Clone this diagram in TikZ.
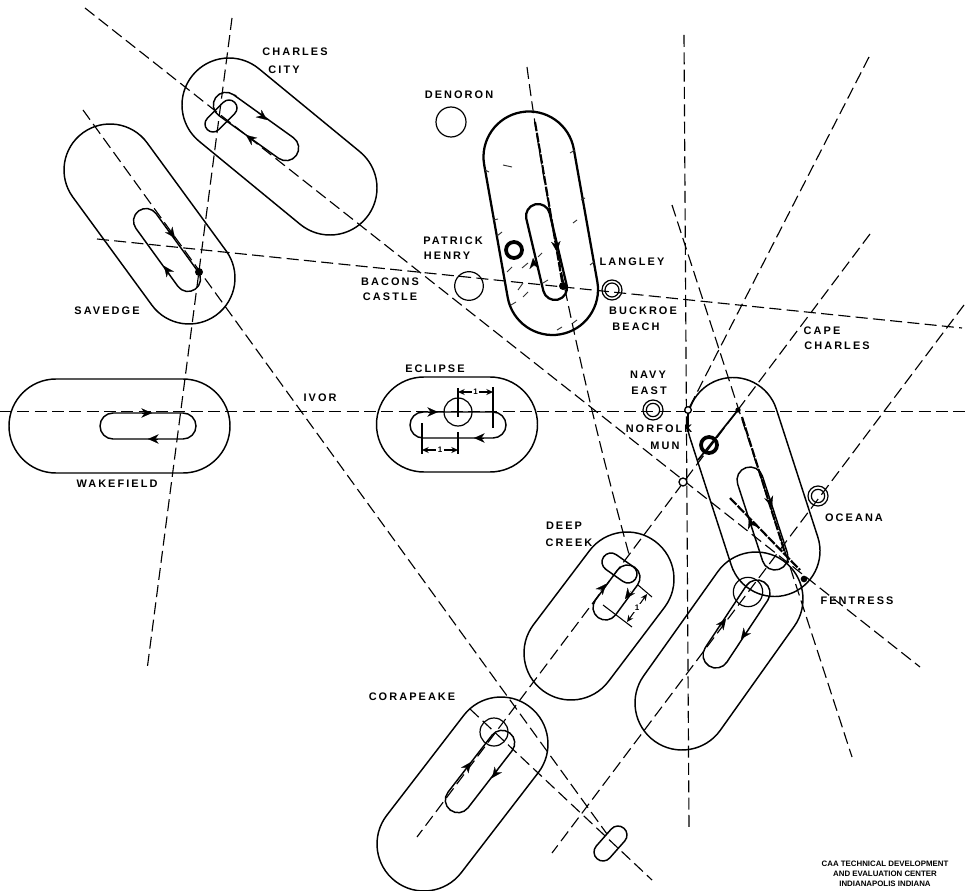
\documentclass[tikz,border=0pt]{standalone}
\usepackage{fontspec}
\usetikzlibrary{arrows.meta}
\setmainfont{Liberation Sans}
\newfontfamily\lblfont[LetterSpace=19]{Liberation Sans Bold}
\newfontfamily\credfont{Liberation Sans Bold}
\tikzset{
  track/.style={black,line width=1.1pt},
  heavytrack/.style={black,line width=1.7pt},
  radial/.style={black,line width=.85pt,dash pattern=on 9pt off 4pt},
  radialheavy/.style={black,line width=1.6pt,dash pattern=on 7pt off 1.2pt},
  lbl/.style={font=\lblfont\fontsize{8.2pt}{9pt}\selectfont,inner sep=0pt,text=black},
  credit/.style={font=\credfont\fontsize{5.9pt}{7pt}\selectfont,inner sep=0pt,text=black},
  fix/.style={circle,draw=black,line width=.9pt,inner sep=0pt,outer sep=0pt},
  heavyfix/.style={fix,line width=2.8pt},
  markdot/.style={circle,fill=black,inner sep=0pt,minimum size=6pt},
  opendot/.style={circle,draw=black,fill=white,line width=1pt,inner sep=0pt,minimum size=6pt},
  dimline/.style={black,line width=.8pt},
  dimarrow/.style={black,line width=.8pt,{Stealth[length=5pt,width=4.5pt]}-{Stealth[length=5pt,width=4.5pt]}},
  hatchmark/.style={black!80,line width=.7pt},
  flow/.style={black,line width=.1pt,-{Stealth[length=8pt,width=7pt]}},
}
\newcommand\stadium[6][track]{%
  \pgfmathsetmacro\ang{atan2(#5-#3,#4-#2)}%
  \draw[#1] ([shift={(\ang-90:#6)}]#2,#3) -- ([shift={(\ang-90:#6)}]#4,#5)
    arc[start angle=\ang-90,delta angle=180,radius=#6]
    -- ([shift={(\ang+90:#6)}]#2,#3)
    arc[start angle=\ang+90,delta angle=180,radius=#6] -- cycle;}
\newcommand\flowtip[4]{\draw[flow] (#1,#2) -- ++(#3,#4);}
\begin{document}
\begin{tikzpicture}[x=.75pt,y=-.75pt]
\fill[white] (0,0) rectangle (970,891);
\useasboundingbox (0,0) rectangle (970,891);

% radial ends
\coordinate (a1) at (85,8);    \coordinate (a2) at (920,667);
\coordinate (b1) at (0,411.5); \coordinate (b2) at (970,411.5);
\coordinate (c1) at (232,18);  \coordinate (c2) at (147,670);
\coordinate (d1) at (83,110);  \coordinate (d2) at (607,834);
\coordinate (e1) at (97,239);  \coordinate (e2) at (962,328);
\coordinate (f1) at (527,67);  \coordinate (f2) at (630,558);
\coordinate (f3) at (548,227); \coordinate (f4) at (586,398);
\coordinate (g1) at (684,35);  \coordinate (g2) at (689,828);
\coordinate (h1) at (869,57);  \coordinate (h2) at (688,410);
\coordinate (i1) at (870,234); \coordinate (i2) at (417,837);
\coordinate (j1) at (964,305); \coordinate (j2) at (552,853);
\coordinate (k1) at (672,205); \coordinate (k2) at (852,757);
\coordinate (l1) at (470,709); \coordinate (l2) at (652,880);

\draw[radial] (a1) -- (a2);
\draw[radial,line width=.7pt] (b1) -- (b2);
\draw[radial] (c1) -- (c2);
\draw[radial] (d1) -- (d2);
\draw[radial] (e1) -- (e2);
\draw[radial] (f1) .. controls (f3) and (f4) .. (f2);
\draw[radial] (g1) -- (g2);
\draw[radial] (h1) -- (h2);
\draw[radial] (i1) -- (i2);
\draw[radial] (j1) -- (j2);
\draw[radial] (k1) -- (k2);
\draw[radial] (l1) -- (l2);

% heavier stretches of the radials
\coordinate (m1) at (535,122); \coordinate (m2) at (563,287);
\draw[radialheavy] (m1) -- (m2);
\coordinate (n1) at (742,417); \coordinate (n2) at (785,553);
\draw[radialheavy] (n1) -- (n2);
\coordinate (o1) at (738,410); \coordinate (o2) at (698,460);
\draw[black,line width=1.3pt] (o1) -- (o2);
\coordinate (p1) at (730,498); \coordinate (p2) at (800,570);
\draw[radialheavy] (p1) -- (p2);
\coordinate (q1) at (688,412); \coordinate (q2) at (688,432);
\draw[black,line width=1.8pt] (q1) -- (q2);

% Charles City
\stadium{229}{105}{330}{188}{47}
\stadium{226}{105}{286}{148}{12.7}
\stadium{213}{124}{229}{108}{8}
\flowtip{258}{113}{9}{7}
\flowtip{255}{142}{-9}{-7}

% Savedge
\stadium{110}{170}{189}{278}{46}
\stadium{146}{221}{188}{279}{12.5}
\flowtip{169}{230}{6}{8}
\flowtip{170}{274}{-6}{-8}

% Wakefield
\stadium{56}{426}{183}{426}{47}
\stadium{113}{426}{183}{426}{13}
\flowtip{142}{413}{10}{0}
\flowtip{158}{439}{-10}{0}

% Eclipse
\stadium{424}{424.5}{490}{424.5}{47.5}
\stadium{423}{425}{493}{425}{13}
\node[fix,minimum size=21pt] (eclipsefix) at (458,412) {};
\flowtip{428}{412}{10}{0}
\flowtip{484}{438}{-10}{0}
\coordinate (ea1) at (458,388); \coordinate (ea2) at (458,417);
\coordinate (eb1) at (493,387); \coordinate (eb2) at (493,428);
\coordinate (ec1) at (422,423); \coordinate (ec2) at (422,454);
\coordinate (ed1) at (458,432); \coordinate (ed2) at (458,454);
\draw[dimline] (ea1) -- (ea2);
\draw[dimline] (eb1) -- (eb2);
\draw[dimline] (ec1) -- (ec2);
\draw[dimline] (ed1) -- (ed2);
\coordinate (ee1) at (458,392); \coordinate (ee2) at (493,392);
\coordinate (ef1) at (422,450); \coordinate (ef2) at (458,450);
\draw[dimarrow] (ee1) -- node[fill=white,inner sep=1pt,font=\credfont\fontsize{6pt}{7pt}\selectfont] (et) {1} (ee2);
\draw[dimarrow] (ef1) -- node[fill=white,inner sep=1pt,font=\credfont\fontsize{6pt}{7pt}\selectfont] (eu) {1} (ef2);

% Langley
\stadium[heavytrack]{529}{157}{552.5}{289.5}{45.5}
\stadium[heavytrack]{538}{216}{555}{288}{12}
\flowtip{556}{243}{1}{9}
\flowtip{534}{267}{-1}{-9}
\foreach \xa/\ya/\xb/\yb in {503/165/512/167,493/220/498/219,573/223/577/220,522/268/528/263,
  538/257/542/253,518/290/523/283,523/297/528/292,507/272/512/267,557/330/562/327,
  573/323/577/320,570/153/575/150,543/283/548/280,485/170/489/172,502/232/497/236,
  590/265/594/262,511/305/516/302,581/200/585/198}
  \draw[hatchmark] (\xa,\ya) -- (\xb,\yb);

% Fentress upper
\stadium{733}{423}{774.5}{551}{45.5}
\stadium{750}{480}{775}{557}{13}
\flowtip{769}{498}{3}{9}
\flowtip{752}{527}{-3}{-9}

% Fentress lower
\stadium{756}{599}{682}{703}{47}
\stadium{757}{593}{716}{655}{13}
\node[fix,minimum size=22pt] (fentfix) at (748,592) {};
\flowtip{720}{627}{6}{-8}
\flowtip{747}{631}{-6}{8}

% Deep Creek
\stadium{627}{579}{571}{653}{47}
\stadium{627.5}{577.5}{605.5}{607.5}{12.5}
\stadium{611}{562}{628}{574}{9}
\flowtip{600}{591}{6}{-7}
\flowtip{631}{591}{-6}{8}
\coordinate (dc1) at (638,585); \coordinate (dc2) at (652,597);
\coordinate (dc3) at (603,605); \coordinate (dc4) at (632,627);
\draw[dimline] (dc1) -- (dc2);
\draw[dimline] (dc3) -- (dc4);
\coordinate (dc5) at (647,594); \coordinate (dc6) at (627,622);
\draw[dimarrow] (dc5) -- node[fill=white,inner sep=1pt,font=\credfont\fontsize{6pt}{7pt}\selectfont] (dct) {1} (dc6);

% Corapeake
\stadium{501}{744}{424}{844}{47}
\stadium{502}{743}{458}{800}{12.7}
\node[fix,minimum size=21pt] (corafix) at (494,732) {};
\flowtip{465}{770}{6}{-8}
\flowtip{498}{770}{-6}{8}

% Small oval at the far end
\stadium{603}{852}{618}{835}{9}

% Fixes
\node[fix,minimum size=22.5pt] (denoron) at (451,122) {};
\node[fix,minimum size=21.5pt] (bacons) at (469,286) {};
\node[heavyfix,minimum size=12pt] (patrick) at (514,250) {};
\node[heavyfix,minimum size=12pt] (norfolk) at (709,445) {};
\node[fix,minimum size=15pt] (langleyo) at (612,290) {};
\node[fix,minimum size=10.5pt] (langleyi) at (612,290) {};
\node[fix,minimum size=15pt] (navyo) at (653,410) {};
\node[fix,minimum size=10pt] (navyi) at (653,410) {};
\node[fix,minimum size=15pt] (oceanao) at (818,496) {};
\node[fix,minimum size=10pt] (oceanai) at (818,496) {};
\node[markdot] (saveint) at (199,272) {};
\node[markdot] (langint) at (563,286) {};
\node[opendot] (fint1) at (683,482) {};
\node[opendot,minimum size=5pt] (fint2) at (688,410) {};
\node[markdot,minimum size=4pt] (fint3) at (738,410) {};
\node[markdot,minimum size=5pt] (fint4) at (804,579) {};

% Labels
\node[lbl] (t1) at (295,52) {CHARLES};
\node[lbl] (t2) at (284,70) {CITY};
\node[lbl] (t3) at (107,311) {SAVEDGE};
\node[lbl] (t4) at (390,282) {BACONS};
\node[lbl] (t5) at (390,297) {CASTLE};
\node[lbl] (t6) at (453,241) {PATRICK};
\node[lbl] (t7) at (447,256) {HENRY};
\node[lbl] (t8) at (459,95) {DENORON};
\node[lbl] (t9) at (632,262) {LANGLEY};
\node[lbl] (t10) at (643,311) {BUCKROE};
\node[lbl] (t11) at (636,327) {BEACH};
\node[lbl] (t12) at (822,331) {CAPE};
\node[lbl] (t13) at (837,346) {CHARLES};
\node[lbl] (t14) at (648,375) {NAVY};
\node[lbl] (t15) at (649,391) {EAST};
\node[lbl] (t16) at (659,429) {NORFOLK};
\node[lbl] (t17) at (665,446) {MUN};
\node[lbl] (t18) at (854,518) {OCEANA};
\node[lbl] (t19) at (857,601) {FENTRESS};
\node[lbl] (t20) at (564,526) {DEEP};
\node[lbl] (t21) at (569,543) {CREEK};
\node[lbl] (t22) at (412,697) {CORAPEAKE};
\node[lbl] (t23) at (435,369) {ECLIPSE};
\node[lbl] (t24) at (320,398) {IVOR};
\node[lbl] (t25) at (117,484) {WAKEFIELD};
\node[credit] (c1t) at (885,864) {CAA TECHNICAL DEVELOPMENT};
\node[credit] (c2t) at (885,873.5) {AND EVALUATION CENTER};
\node[credit] (c3t) at (885,884) {INDIANAPOLIS INDIANA};
\end{tikzpicture}
\end{document}
